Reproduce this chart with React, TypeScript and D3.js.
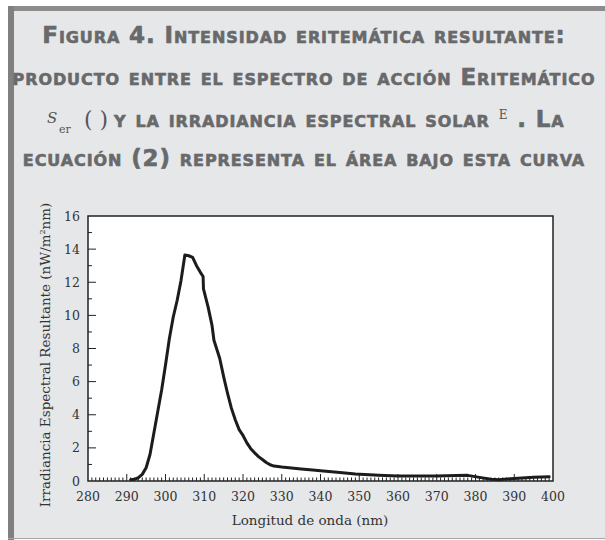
import React, { useEffect, useRef } from 'react';
import * as d3 from 'd3';

// Irradiancia espectral resultante (nW/m²nm) vs longitud de onda (nm)
const wavelength = [
  291, 292, 293, 294, 295, 296, 297, 298, 299, 300, 301, 302, 303, 304, 305, 306, 307, 308, 309,
  309.7, 309.8, 311, 312, 312.5, 314, 315, 316, 317, 318, 319, 320, 321, 322, 323, 324, 325, 326,
  327, 328, 330, 335, 338, 340, 345, 349, 355, 360, 365, 370, 375, 378, 381, 384, 386, 390, 395, 399,
];
const irradiance = [
  0.08, 0.1, 0.2, 0.4, 0.8, 1.6, 2.9, 4.2, 5.5, 7.0, 8.6, 9.9, 10.9, 12.1, 13.65, 13.6, 13.5, 13.0, 12.6,
  12.35, 11.6, 10.5, 9.4, 8.5, 7.4, 6.3, 5.3, 4.4, 3.7, 3.1, 2.75, 2.3, 1.95, 1.7, 1.47, 1.3, 1.12,
  0.98, 0.9, 0.84, 0.72, 0.66, 0.62, 0.52, 0.42, 0.35, 0.3, 0.3, 0.3, 0.33, 0.34, 0.22, 0.1, 0.08, 0.15, 0.22, 0.25,
];
const xTicks = [280, 290, 300, 310, 320, 330, 340, 350, 360, 370, 380, 390, 400];
const yTicks = [0, 2, 4, 6, 8, 10, 12, 14, 16];

const titleLines = [
  'Figura 4. Intensidad eritemática resultante:',
  'producto entre el espectro de acción Eritemático',
  'ecuación (2) representa el área bajo esta curva',
];

const W = 605;
const H = 540;
const margin = { top: 216, right: 52, bottom: 59, left: 88 };

const titleFont = '"DejaVu Sans", sans-serif';
const serif = '"DejaVu Serif", serif';
const titleColor = '#68696b';

const App: React.FC = () => {
  const svgRef = useRef<SVGSVGElement>(null);

  useEffect(() => {
    if (!svgRef.current) return;
    const svg = d3.select(svgRef.current);
    svg.selectAll('*').remove();

    // frame
    svg.append('rect').attr('width', W).attr('height', H).attr('fill', '#fff');
    svg.append('rect').attr('x', 8).attr('y', 6).attr('width', W - 8).attr('height', 532).attr('fill', '#e6e7e9');
    svg.append('rect').attr('x', 8).attr('y', 6).attr('width', W - 8).attr('height', 5).attr('fill', '#8c8c8c');
    svg.append('rect').attr('x', 8).attr('y', 6).attr('width', 6).attr('height', H - 6).attr('fill', '#808080');
    svg.append('rect').attr('x', 8).attr('y', 538).attr('width', W - 8).attr('height', 1).attr('fill', '#a5a5a5');

    // title
    const styleTitle = (sel: any) => sel
      .attr('fill', titleColor)
      .attr('stroke', titleColor)
      .attr('stroke-width', 0.6)
      .style('font-family', titleFont)
      .style('font-weight', '700')
      .style('font-variant', 'small-caps')
      .style('font-size', '23px')
      .style('letter-spacing', '0.9px');

    const title = svg.append('g').call(styleTitle);
    title.append('text').attr('x', 304).attr('y', 43).attr('text-anchor', 'middle').text(titleLines[0]);
    title.append('text').attr('x', 304).attr('y', 85).attr('text-anchor', 'middle').text(titleLines[1]);
    title.append('text').attr('x', 304).attr('y', 166).attr('text-anchor', 'middle').text(titleLines[2]);

    // line 3 with the inline math
    const l3 = svg.append('g').attr('fill', '#555');
    l3.append('text').attr('x', 47).attr('y', 123)
      .style('font-family', serif).style('font-style', 'italic').style('font-size', '15px').text('S');
    l3.append('text').attr('x', 59).attr('y', 133)
      .style('font-family', serif).style('font-size', '11px').text('er');
    l3.append('text').attr('x', 84).attr('y', 127)
      .style('font-family', serif).style('font-size', '22px').text('( )');
    const l3b = l3.append('text').attr('x', 114).attr('y', 127).call(styleTitle);
    l3b.append('tspan').text('y la irradiancia espectral solar ');
    l3b.append('tspan').attr('dy', -8).attr('fill', '#555').attr('stroke', 'none')
      .style('font-family', serif).style('font-weight', '400').style('font-size', '12px').text('E');
    l3b.append('tspan').attr('dy', 8).text(' . La');

    // chart
    const iw = W - margin.left - margin.right;
    const ih = H - margin.top - margin.bottom;
    const x = d3.scaleLinear().domain([280, 400]).range([margin.left, margin.left + iw]);
    const y = d3.scaleLinear().domain([0, 16]).range([margin.top + ih, margin.top]);

    svg.append('rect')
      .attr('x', margin.left).attr('y', margin.top).attr('width', iw).attr('height', ih)
      .attr('fill', '#fff');

    const axisColor = '#222';
    const ticks = svg.append('g').attr('stroke', axisColor).attr('stroke-width', 1);

    // x minor/major ticks (inward)
    d3.range(281, 400).forEach(v => {
      const major = v % 10 === 0;
      ticks.append('line')
        .attr('x1', x(v)).attr('x2', x(v))
        .attr('y1', y(0)).attr('y2', y(0) - (major ? 7 : 3.5));
    });
    // y minor/major ticks
    d3.range(1, 16).forEach(v => {
      const major = v % 2 === 0;
      ticks.append('line')
        .attr('x1', x(280)).attr('x2', x(280) + (major ? 8 : 4))
        .attr('y1', y(v)).attr('y2', y(v));
    });

    const labels = svg.append('g').attr('fill', '#333').style('font-family', serif).style('font-size', '12.5px');
    labels.selectAll('text.xt').data(xTicks).enter().append('text')
      .attr('class', 'xt')
      .attr('x', d => x(d)).attr('y', 501)
      .attr('text-anchor', 'middle')
      .text(d => d);
    labels.selectAll('text.yt').data(yTicks).enter().append('text')
      .attr('class', 'yt')
      .attr('x', 80).attr('y', d => y(d)).attr('dy', '0.36em')
      .attr('text-anchor', 'end')
      .text(d => d);

    // axis titles
    svg.append('text')
      .attr('x', 310).attr('y', 525)
      .attr('text-anchor', 'middle')
      .attr('fill', '#333')
      .style('font-family', serif).style('font-size', '13.5px')
      .text('Longitud de onda (nm)');
    const yl = svg.append('text')
      .attr('transform', 'translate(50,355) rotate(-90)')
      .attr('text-anchor', 'middle')
      .attr('fill', '#333')
      .style('font-family', serif).style('font-size', '13.5px');
    yl.append('tspan').text('Irradiancia Espectral Resultante (nW/m');
    yl.append('tspan').attr('dy', -5).style('font-size', '8px').text('2');
    yl.append('tspan').attr('dy', 5).text('nm)');

    // curve
    const pts: [number, number][] = wavelength.map((w, i) => [w, irradiance[i]]);
    const line = d3.line<[number, number]>()
      .x(d => x(d[0]))
      .y(d => y(d[1]))
      .curve(d3.curveLinear);
    svg.append('path')
      .datum(pts)
      .attr('d', line)
      .attr('fill', 'none')
      .attr('stroke', '#1c1c1c')
      .attr('stroke-width', 3)
      .attr('stroke-linejoin', 'round')
      .attr('stroke-linecap', 'round');

    // plot frame
    svg.append('rect')
      .attr('x', margin.left).attr('y', margin.top).attr('width', iw).attr('height', ih)
      .attr('fill', 'none').attr('stroke', axisColor).attr('stroke-width', 1.5);
  }, []);

  return (
    <svg
      ref={svgRef}
      width={W}
      height={H}
      style={{ position: 'absolute', left: 0, top: 0, display: 'block' }}
    />
  );
};

export default App;
